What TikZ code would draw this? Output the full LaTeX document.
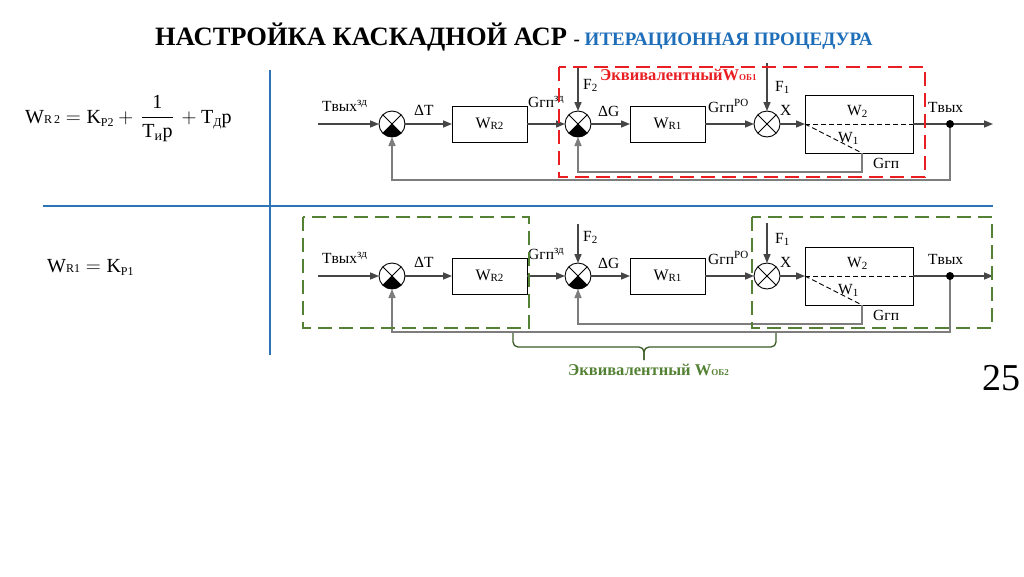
\documentclass[tikz,border=0pt]{standalone}
\usepackage{fontspec}
\usepackage{amsmath}
\setmainfont{Liberation Serif}
\usetikzlibrary{arrows.meta}
\definecolor{lnc}{RGB}{70,70,70}
\definecolor{fbc}{RGB}{125,125,125}
\definecolor{redd}{RGB}{232,30,35}
\definecolor{grn}{RGB}{84,130,53}
\definecolor{sepblue}{RGB}{46,117,182}
\definecolor{ttlblue}{RGB}{31,110,185}
\newcommand{\mysup}[1]{\raisebox{6pt}{\fontsize{11}{11}\selectfont #1}}
\newcommand{\mysub}[1]{\raisebox{-2.5pt}{\fontsize{11}{11}\selectfont #1}}
\begin{document}
\begin{tikzpicture}[x=1pt,y=-1pt,
  conn/.style={draw=lnc,line width=1.5pt,-{Triangle[length=9pt,width=7pt]}},
  fbline/.style={draw=fbc,line width=1.6pt,-{Triangle[length=9pt,width=7pt]}},
  dashline/.style={draw=black,line width=0.9pt,dash pattern=on 5pt off 3pt},
  block/.style={draw=black,line width=0.9pt,minimum width=75pt,minimum height=36pt,inner sep=0pt,outer sep=0pt,font=\fontsize{16}{16}\selectfont},
  sumc/.style={circle,draw=black,line width=0.9pt,minimum size=26pt,inner sep=0pt,outer sep=0pt,fill=white},
  lab/.style={anchor=base west,font=\fontsize{15.5}{15.5}\selectfont,inner sep=0pt},
  boxr/.style={draw=redd,line width=2.5pt,dash pattern=on 14pt off 7pt},
  boxg/.style={draw=grn,line width=2.5pt,dash pattern=on 14pt off 7pt},
  sep/.style={draw=sepblue,line width=2.5pt}]
\useasboundingbox (0,0) rectangle (1024,576);

% title
\node[anchor=base west,inner sep=0pt] (ttl) at (155,45)
  {\fontsize{26.5}{30}\selectfont\bfseries НАСТРОЙКА КАСКАДНОЙ АСР \fontsize{19}{20}\selectfont - \color{ttlblue}ИТЕРАЦИОННАЯ ПРОЦЕДУРА};

% separators
\draw[sep] (270,70) -- (270,355);
\draw[sep] (43,206) -- (993,206);

% formulas
\node[anchor=base west,inner sep=0pt,font=\fontsize{20}{24}\selectfont] (fm1) at (25,123)
  {W{\fontsize{12}{12}\selectfont R\,2}${}={}$K\raisebox{-3pt}{\fontsize{12}{12}\selectfont P2}${}+{}$\,$\dfrac{\text{1}}{\text{T}_{\text{и}}\text{p}}$\,${}+{}$T\raisebox{-3pt}{\fontsize{12}{12}\selectfont Д}p};
\node[anchor=base west,inner sep=0pt,font=\fontsize{20}{24}\selectfont] (fm2) at (47,272)
  {W{\fontsize{12}{12}\selectfont R1}${}={}$K\raisebox{-3pt}{\fontsize{12}{12}\selectfont P1}};

\foreach \dy/\p/\fa/\fb in {0/t/68/63, 152/b/72/71} {
  \node[sumc] (\p s1) at (392,124+\dy) {};
  \node[block] (\p r2) at (489.5,124+\dy) {W\raisebox{-1pt}{\fontsize{11}{11}\selectfont R2}};
  \node[sumc] (\p s2) at (578,124+\dy) {};
  \node[block] (\p r1) at (667.5,124+\dy) {W\raisebox{-1pt}{\fontsize{11}{11}\selectfont R1}};
  \node[sumc] (\p s3) at (767,124+\dy) {};
  \node[block,minimum width=108pt,minimum height=58pt] (\p wp) at (859,124+\dy) {};
  \coordinate (\p in) at (318,124+\dy);
  \coordinate (\p out) at (993,124+\dy);
  \coordinate (\p f2) at (578,\fa+\dy);
  \coordinate (\p f1) at (767,\fb+\dy);
  \coordinate (\p w1) at (862,153+\dy);
  \coordinate (\p fo) at (392,180+\dy);
  \coordinate (\p fi) at (578,172+\dy);
  \coordinate (\p dc) at (950,124+\dy);

  % feedback
  \draw[fbline] (\p w1) |- (\p fi) -- (\p s2);
  \draw[fbline] (\p dc) |- (\p fo) -- (\p s1);

  % forward path
  \draw[conn] (\p in) -- (\p s1);
  \draw[conn] (\p s1) -- (\p r2);
  \draw[conn] (\p r2) -- (\p s2);
  \draw[conn] (\p f2) -- (\p s2);
  \draw[conn] (\p s2) -- (\p r1);
  \draw[conn] (\p r1) -- (\p s3);
  \draw[conn] (\p f1) -- (\p s3);
  \draw[conn] (\p s3) -- (\p wp.west);
  \draw[conn] (\p wp.east) -- (\p out);
  \draw[dashline] (\p wp.west) -- (\p wp.east);
  \draw[dashline] (\p wp.west) -- (\p w1);
  \node[circle,fill=black,minimum size=8pt,inner sep=0pt] (\p dot) at (\p dc) {};

  % summing junction marks
  \foreach \n in {s1,s2} {
    \fill (\p\n.center) -- (\p\n.south west) arc[start angle=135,end angle=45,radius=13] -- cycle;
  }
  \foreach \n in {s1,s2,s3} {
    \draw[line width=0.8pt] (\p\n.north west) -- (\p\n.south east) (\p\n.north east) -- (\p\n.south west);
  }

  % labels
  \node[lab] (\p l1) at (322,111+\dy) {Tвых\mysup{зд}};
  \node[lab] (\p l2) at (414,115+\dy) {ΔT};
  \node[lab] (\p l3) at (528,107+\dy) {Gгп\mysup{зд}};
  \node[lab] (\p l4) at (583,89+\dy) {F\mysub{2}};
  \node[lab] (\p l5) at (598,116+\dy) {ΔG};
  \node[lab] (\p l6) at (708,112+\dy) {Gгп\mysup{РО}};
  \node[lab] (\p l7) at (775,91+\dy) {F\mysub{1}};
  \node[lab] (\p l8) at (780,115+\dy) {X};
  \node[lab] (\p l9) at (847,115+\dy) {W\mysub{2}};
  \node[lab] (\p l10) at (838,142+\dy) {W\mysub{1}};
  \node[lab] (\p l11) at (873,168+\dy) {Gгп};
  \node[lab] (\p l12) at (928,112+\dy) {Tвых};
}

% equivalent-object frames
\draw[boxr] (559,67) rectangle (925,177);
\node[anchor=base west,inner sep=0pt,text=redd] (eq1) at (600,80)
  {\fontsize{16.5}{16.5}\selectfont\bfseries ЭквивалентныйW\fontsize{9}{9}\selectfont ОБ1};
\draw[boxg] (303,217) rectangle (529,328);
\draw[boxg] (752,217) rectangle (992,328);

% brace
\coordinate (brl) at (513,333);
\coordinate (brr) at (776,333);
\coordinate (brm) at (644,347);
\coordinate (brt) at (644,360);
\draw[grn!70!black,line width=1.3pt,rounded corners=5pt] (brl) |- (brm) -- (brt);
\draw[grn!70!black,line width=1.3pt,rounded corners=5pt] (brr) |- (brm) -- (brt);
\node[anchor=base west,inner sep=0pt,text=grn] (eq2) at (568,375)
  {\fontsize{16.5}{16.5}\selectfont\bfseries Эквивалентный W\fontsize{9}{9}\selectfont ОБ2};

% page number
\node[anchor=base west,inner sep=0pt,font=\fontsize{38}{40}\selectfont] (pg) at (982,390) {25};
\end{tikzpicture}
\end{document}
